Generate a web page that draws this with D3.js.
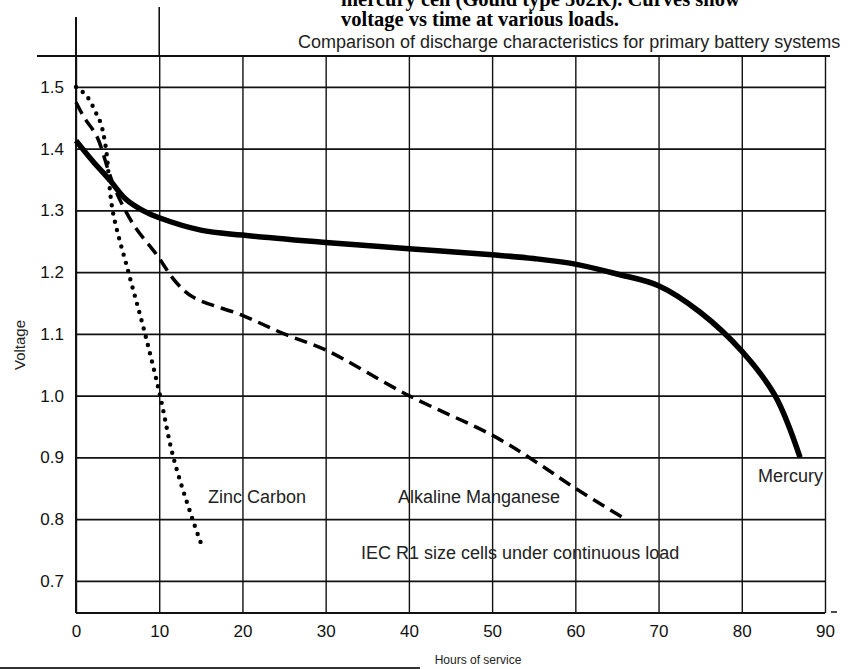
<!DOCTYPE html>
<meta charset="utf-8" />
<style>
  body { margin: 0; background: #fff; }
  svg { display: block; }
  .tick text { font-family: "Liberation Sans", Arial, sans-serif; font-size: 17px; fill: #111; }
  .note { font-family: "Liberation Sans", Arial, sans-serif; fill: #222; }
</style>
<svg width="861" height="669"></svg>
<script src="https://d3js.org/d3.v7.min.js"></script>
<script>
  // hours of service / voltage
  var mercuryHours = [0, 2, 4, 6, 8, 10, 15, 20, 30, 40, 50, 55, 60, 65, 70, 75, 80, 84, 87];
  var mercuryVolts = [1.413, 1.38, 1.35, 1.318, 1.3, 1.288, 1.268, 1.26, 1.248, 1.238, 1.228, 1.222, 1.213, 1.197, 1.178, 1.135, 1.072, 1.0, 0.9];

  var alkalineHours = [0, 1, 2.5, 4, 5, 7, 9.7, 12, 14, 20, 25, 30, 40, 50, 55, 60, 66];
  var alkalineVolts = [1.475, 1.45, 1.42, 1.36, 1.325, 1.275, 1.228, 1.184, 1.16, 1.13, 1.1, 1.074, 1.0, 0.936, 0.895, 0.85, 0.8];

  var zincHours = [0, 1.3, 2.5, 3, 3.6, 4.4, 6.3, 8.3, 10.1, 11.7, 14, 15.1];
  var zincVolts = [1.5, 1.485, 1.455, 1.44, 1.4, 1.3, 1.2, 1.1, 1.0, 0.9, 0.8, 0.758];

  var xTicks = [0, 10, 20, 30, 40, 50, 60, 70, 80, 90];
  var yTicks = [0.7, 0.8, 0.9, 1.0, 1.1, 1.2, 1.3, 1.4, 1.5];

  var svg = d3.select("svg");

  var x = d3.scaleLinear().domain([0, 90]).range([76, 825]);
  var y = d3.scaleLinear().domain([0.648, 1.55]).range([613, 56]);

  // title fragments from the page above the figure
  svg.append("text")
    .attr("x", 341).attr("y", 6)
    .style("font-family", "'Liberation Serif', 'Times New Roman', serif")
    .style("font-weight", "bold").style("font-size", "20.5px")
    .text("mercury cell (Gould type 502R). Curves show");
  svg.append("text")
    .attr("x", 341).attr("y", 26)
    .style("font-family", "'Liberation Serif', 'Times New Roman', serif")
    .style("font-weight", "bold").style("font-size", "20.5px")
    .text("voltage vs time at various loads.");

  svg.append("text").attr("class", "note")
    .attr("x", 298).attr("y", 48)
    .style("font-size", "18px")
    .text("Comparison of discharge characteristics for primary battery systems");

  // grid via axes
  var gx = svg.append("g")
    .attr("transform", "translate(0," + y.range()[0] + ")")
    .call(d3.axisBottom(x).tickValues(xTicks).tickSize(-(y.range()[0] - y.range()[1])).tickPadding(10).tickFormat(d3.format("d")));
  gx.select(".domain").remove();
  gx.selectAll(".tick line").attr("stroke", "#111").attr("stroke-width", 1.4);
  gx.selectAll(".tick text").attr("dy", "0.85em");

  var gy = svg.append("g")
    .attr("transform", "translate(" + x.range()[0] + ",0)")
    .call(d3.axisLeft(y).tickValues(yTicks).tickSize(-(x(90) - x(0))).tickPadding(12).tickFormat(d3.format(".1f")));
  gy.select(".domain").remove();
  gy.selectAll(".tick line").attr("stroke", "#111").attr("stroke-width", 1.6);

  // frame
  svg.append("line").attr("x1", 37).attr("x2", 830).attr("y1", y(1.55)).attr("y2", y(1.55))
    .attr("stroke", "#111").attr("stroke-width", 2);
  svg.append("line").attr("x1", x(0)).attr("x2", x(90)).attr("y1", y(0.648)).attr("y2", y(0.648))
    .attr("stroke", "#111").attr("stroke-width", 2);
  svg.append("line").attr("x1", x(0)).attr("x2", x(0)).attr("y1", 17).attr("y2", y(0.648))
    .attr("stroke", "#111").attr("stroke-width", 2);
  svg.append("line").attr("x1", x(10)).attr("x2", x(10)).attr("y1", 7).attr("y2", y(1.55))
    .attr("stroke", "#111").attr("stroke-width", 1.6);
  svg.append("line").attr("x1", x(90) + 6).attr("x2", x(90) + 12).attr("y1", y(0.648) - 1).attr("y2", y(0.648) - 1)
    .attr("stroke", "#111").attr("stroke-width", 1.5);

  var line = d3.line()
    .x(function (d) { return x(d[0]); })
    .y(function (d) { return y(d[1]); })
    .curve(d3.curveCatmullRom.alpha(0.5));

  svg.append("path")
    .datum(d3.zip(mercuryHours, mercuryVolts))
    .attr("d", line)
    .attr("fill", "none").attr("stroke", "#000").attr("stroke-width", 5.5);

  svg.append("path")
    .datum(d3.zip(alkalineHours, alkalineVolts))
    .attr("d", line)
    .attr("fill", "none").attr("stroke", "#000").attr("stroke-width", 3.5)
    .attr("stroke-dasharray", "13,7");

  svg.append("path")
    .datum(d3.zip(zincHours, zincVolts))
    .attr("d", line)
    .attr("fill", "none").attr("stroke", "#000").attr("stroke-width", 4.4)
    .attr("stroke-linecap", "round")
    .attr("stroke-dasharray", "0,8.5");

  // curve labels
  svg.append("text").attr("class", "note").attr("x", 208).attr("y", 503).style("font-size", "18px").text("Zinc Carbon");
  svg.append("text").attr("class", "note").attr("x", 398).attr("y", 503).style("font-size", "18px").text("Alkaline Manganese");
  svg.append("text").attr("class", "note").attr("x", 758).attr("y", 482).style("font-size", "18px").text("Mercury");
  svg.append("text").attr("class", "note").attr("x", 361).attr("y", 559).style("font-size", "18px").text("IEC R1 size cells under continuous load");

  // axis titles
  svg.append("text").attr("class", "note")
    .attr("transform", "translate(25,345) rotate(-90)")
    .attr("text-anchor", "middle").style("font-size", "15px")
    .text("Voltage");
  svg.append("text").attr("class", "note")
    .attr("x", 478).attr("y", 664)
    .attr("text-anchor", "middle").style("font-size", "12px")
    .text("Hours of service");

  // page rule at the bottom edge of the scan
  svg.append("line").attr("x1", 0).attr("x2", 420).attr("y1", 668).attr("y2", 668)
    .attr("stroke", "#333").attr("stroke-width", 2);
</script>
